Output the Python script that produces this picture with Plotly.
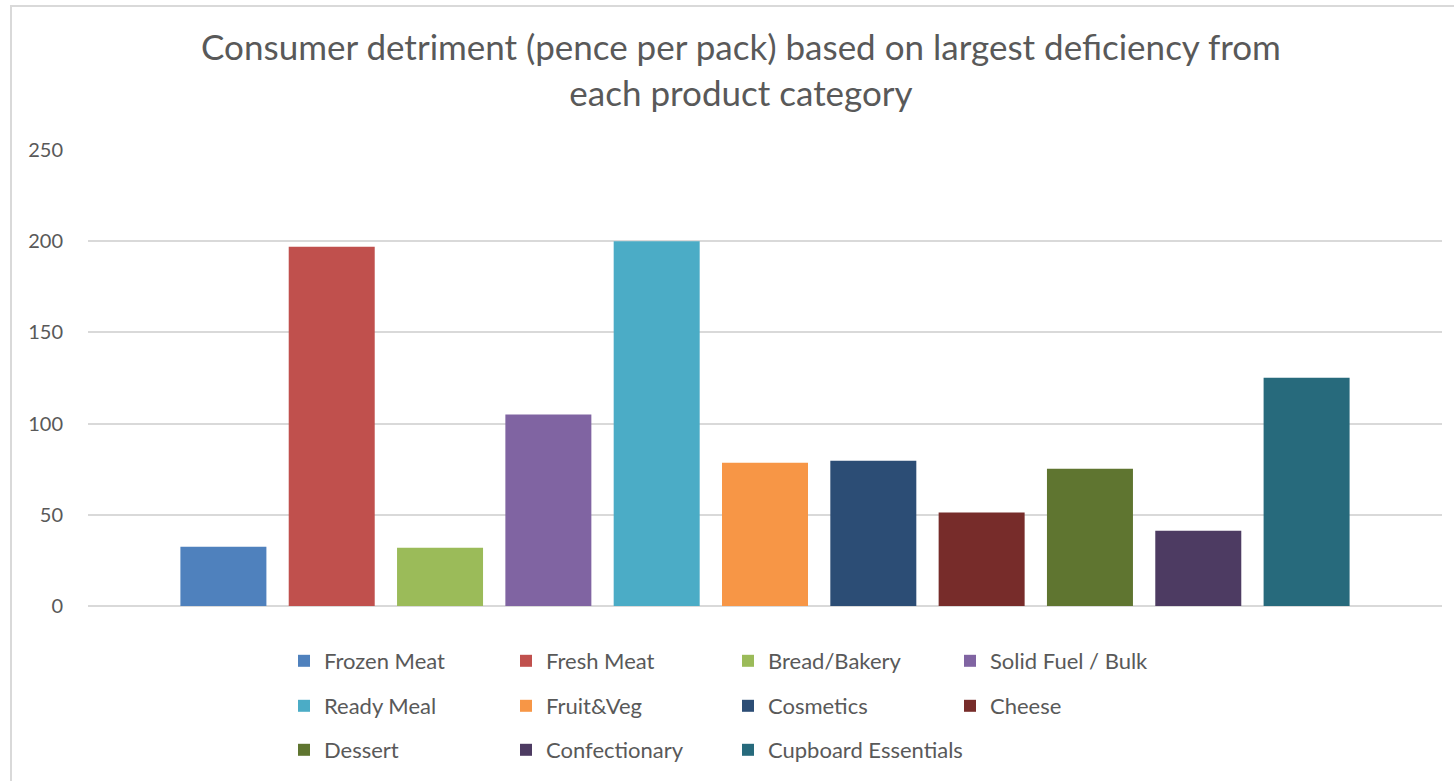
import plotly.graph_objects as go

# Product categories and the largest deficiency found in each (pence per pack)
categories = [
    "Frozen Meat", "Fresh Meat", "Bread/Bakery", "Solid Fuel / Bulk",
    "Ready Meal", "Fruit&Veg", "Cosmetics", "Cheese",
    "Dessert", "Confectionary", "Cupboard Essentials",
]
detriment = [32.5, 197, 32, 105, 200, 78.6, 79.7, 51.2, 75.3, 41.3, 125.2]
colors = [
    "#4F81BD", "#C0504D", "#9BBB59", "#8064A2",
    "#4BACC6", "#F79646", "#2C4D75", "#772C2A",
    "#5F7530", "#4D3B62", "#276A7C",
]
y_ticks = [0, 50, 100, 150, 200, 250]

TEXT = "#595959"
GRID = "#D9D9D9"
FONT = "Lato, 'Open Sans', sans-serif"

W, H = 1454, 781
M_L, M_R, M_T, M_B = 88, 12, 150, 175

COL_W = 222          # horizontal pitch of legend columns (px)
LEG_X0 = 284         # left edge of the first legend column (px)
ROW_TOPS = [640, 685, 729]

fig = go.Figure()

# Legend laid out as a 4-column grid: (legend id, row, first column) per trace
slots = [(("legend", 0, 0) if i < 4 else ("legend2", 1, 0) if i < 8 else
          ("legend3", 2, 0) if i < 10 else ("legend4", 2, 2))
         for i in range(len(categories))]

for cat, val, col, slot in zip(categories, detriment, colors, slots):
    fig.add_trace(go.Bar(
        x=[cat], y=[val], name=cat,
        marker=dict(color=col, line=dict(width=0)),
        width=0.794,
        legend=slot[0],
        hovertemplate="%{x}: %{y}<extra></extra>",
    ))

legend_common = dict(
    orientation="h",
    xref="container", yref="container",
    xanchor="left", yanchor="top",
    font=dict(family=FONT, size=22, color=TEXT),
    bgcolor="rgba(0,0,0,0)",
    itemclick=False, itemdoubleclick=False,
)
legends = {}
for name, row, col0 in {(s[0], s[1], s[2]) for s in slots}:
    cfg = dict(legend_common,
               x=(LEG_X0 + col0 * COL_W) / W,
               y=1 - ROW_TOPS[row] / H)
    if name != "legend4":
        cfg.update(entrywidth=COL_W - 45, entrywidthmode="pixels")
    legends[name] = cfg

plot_w = W - M_L - M_R
plot_h = H - M_T - M_B

def px_x(p):
    return (p - M_L) / plot_w

def px_y(p):
    return (H - M_B - p) / plot_h

fig.update_layout(
    width=W, height=H,
    margin=dict(l=M_L, r=M_R, t=M_T, b=M_B),
    paper_bgcolor="white", plot_bgcolor="white",
    barmode="overlay",
    showlegend=True,
    title=dict(
        text="Consumer detriment (pence per pack) based on largest deficiency from<br>each product category",
        x=741 / W, xanchor="center", xref="container",
        y=1 - 60 / H, yanchor="top", yref="container",
        font=dict(family=FONT, size=35, color=TEXT),
    ),
    xaxis=dict(
        categoryorder="array", categoryarray=categories,
        range=[-1.25, 11.25],
        showticklabels=False, showgrid=False, zeroline=False,
        showline=False, ticks="", fixedrange=True,
    ),
    yaxis=dict(
        range=[0, 250], tickvals=y_ticks,
        showgrid=True, gridcolor=GRID, gridwidth=2,
        zeroline=True, zerolinecolor=GRID, zerolinewidth=2,
        showline=False, ticks="", ticklabelstandoff=24,
        tickfont=dict(family=FONT, size=20, color=TEXT),
        fixedrange=True,
    ),
    shapes=[dict(
        type="rect", xref="paper", yref="paper",
        x0=px_x(11), x1=px_x(W + 20), y0=px_y(H + 20), y1=px_y(6),
        line=dict(color=GRID, width=2), fillcolor="rgba(0,0,0,0)",
        layer="below",
    )],
    **legends,
)

fig.write_html("out.html", config={"displayModeBar": False})
